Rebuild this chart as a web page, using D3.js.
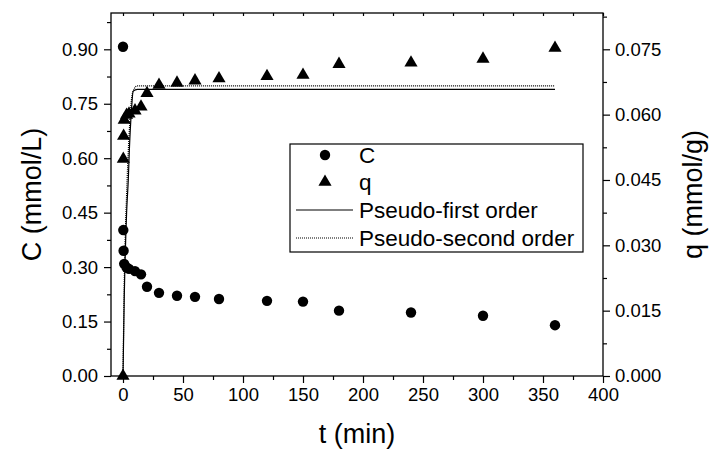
<!DOCTYPE html>
<html><head><meta charset="utf-8">
<script src="https://cdn.jsdelivr.net/npm/d3@7"></script>
<style>body{margin:0;background:#fff}svg{display:block;font-family:"Liberation Sans",Arial,sans-serif}</style>
</head><body><svg id="c" width="709" height="453"></svg>
<script>
// data
const times = [0, 0.25, 0.5, 1, 3, 5, 10, 15, 20, 30, 45, 60, 80, 120, 150, 180, 240, 300, 360];
const cValues = [0.907, 0.402, 0.345, 0.309, 0.299, 0.295, 0.289, 0.280, 0.246, 0.229, 0.221, 0.218, 0.212, 0.207, 0.205, 0.180, 0.175, 0.166, 0.140];
const qValues = [0, 0.0498, 0.0551, 0.0588, 0.0599, 0.0602, 0.0609, 0.0618, 0.0649, 0.0668, 0.0673, 0.0678, 0.0683, 0.0688, 0.0691, 0.0716, 0.0719, 0.0728, 0.0753];
const firstOrderT = [0, 1, 3, 4.4, 5.3, 7, 8.5, 12, 360];
const firstOrderQ = [0, 0.0174, 0.0375, 0.045, 0.0519, 0.0608, 0.0654, 0.0658, 0.0658];
const secondOrderT = [0, 1, 3, 5, 7, 9, 12, 360];
const secondOrderQ = [0, 0.0208, 0.0417, 0.055, 0.0633, 0.0658, 0.0666, 0.0666];
const xTicks = [0, 50, 100, 150, 200, 250, 300, 350, 400];
const cTicks = [0, 0.15, 0.30, 0.45, 0.60, 0.75, 0.90];
const qTicks = [0, 0.015, 0.030, 0.045, 0.060, 0.075];
const legendLabels = ["C", "q", "Pseudo-first order", "Pseudo-second order"];

const L = 111, R = 603, T = 13, B = 376;
const FONT = "'Liberation Sans', Arial, sans-serif";
const svg = d3.select("#c");
const x = d3.scaleLinear([-10, 400], [L, R]);
const yC = d3.scaleLinear([0, 1.0], [B, T]);
const yQ = d3.scaleLinear([0, 1/12], [B, T]);

const xMinor = d3.range(25, 400, 50);
const cMinor = d3.range(0.075, 1.0, 0.15);
const qMinor = d3.range(0.0075, 0.0834, 0.015);

function styleAxis(g, fs) {
  g.select(".domain").remove();
  g.selectAll("line").attr("stroke", "#000").attr("stroke-width", 1.2);
  g.selectAll("text").attr("font-size", fs).attr("fill", "#000").attr("font-family", FONT);
}
// bottom
let g = svg.append("g").attr("transform", `translate(0,${B})`)
  .call(d3.axisBottom(x).tickValues(xTicks).tickFormat(d3.format("d")).tickSizeInner(7).tickSizeOuter(0).tickPadding(5));
styleAxis(g, 18.5);
g = svg.append("g").attr("transform", `translate(0,${B})`)
  .call(d3.axisBottom(x).tickValues(xMinor).tickFormat("").tickSizeInner(4).tickSizeOuter(0));
styleAxis(g, 18);
// top inner ticks
g = svg.append("g").attr("transform", `translate(0,${T})`)
  .call(d3.axisBottom(x).tickValues(xTicks.concat(xMinor)).tickFormat("").tickSizeInner(3).tickSizeOuter(0));
styleAxis(g, 18);
// left
g = svg.append("g").attr("transform", `translate(${L},0)`)
  .call(d3.axisLeft(yC).tickValues(cTicks).tickFormat(d3.format(".2f")).tickSizeInner(7).tickSizeOuter(0).tickPadding(6));
styleAxis(g, 18.5);
g = svg.append("g").attr("transform", `translate(${L},0)`)
  .call(d3.axisLeft(yC).tickValues(cMinor).tickFormat("").tickSizeInner(4).tickSizeOuter(0));
styleAxis(g, 18);
// right
g = svg.append("g").attr("transform", `translate(${R},0)`)
  .call(d3.axisRight(yQ).tickValues(qTicks).tickFormat(d3.format(".3f")).tickSizeInner(7).tickSizeOuter(0).tickPadding(5));
styleAxis(g, 18.5);
g = svg.append("g").attr("transform", `translate(${R},0)`)
  .call(d3.axisRight(yQ).tickValues(qMinor).tickFormat("").tickSizeInner(4).tickSizeOuter(0));
styleAxis(g, 18);

// frame
svg.append("rect").attr("x", L).attr("y", T).attr("width", R - L).attr("height", B - T)
  .attr("fill", "none").attr("stroke", "#000").attr("stroke-width", 1.3);

// fit lines
const line = d3.line().curve(d3.curveMonotoneX);
svg.append("path")
  .attr("d", line(firstOrderT.map((t, i) => [x(t), yQ(firstOrderQ[i])])))
  .attr("fill", "none").attr("stroke", "#000").attr("stroke-width", 1.2);
svg.append("path")
  .attr("d", line(secondOrderT.map((t, i) => [x(t), yQ(secondOrderQ[i])])))
  .attr("fill", "none").attr("stroke", "#000").attr("stroke-width", 1.2).attr("stroke-dasharray", "1,1");

// markers
const circ = d3.symbol().type(d3.symbolCircle).size(85);
const tri = d3.symbol().type(d3.symbolTriangle).size(75);
svg.append("g").selectAll("path").data(times).join("path")
  .attr("d", circ).attr("transform", (t, i) => `translate(${x(t)},${yC(cValues[i])})`).attr("fill", "#000");
svg.append("g").selectAll("path").data(times).join("path")
  .attr("d", tri).attr("transform", (t, i) => `translate(${x(t)},${yQ(qValues[i])})`).attr("fill", "#000");

// axis titles
svg.append("text").attr("x", (L + R) / 2).attr("y", 443).attr("text-anchor", "middle").attr("font-size", 27).attr("font-family", FONT).text("t (min)");
svg.append("text").attr("transform", `translate(41,${(T + B) / 2}) rotate(-90)`).attr("text-anchor", "middle").attr("font-size", 27).attr("font-family", FONT).text("C (mmol/L)");
svg.append("text").attr("transform", `translate(702,${(T + B) / 2}) rotate(-90)`).attr("text-anchor", "middle").attr("font-size", 27).attr("font-family", FONT).text("q (mmol/g)");

// legend
const lg = svg.append("g");
lg.append("rect").attr("x", 290).attr("y", 144).attr("width", 293).attr("height", 108)
  .attr("fill", "#fff").attr("stroke", "#000").attr("stroke-width", 1.2);
const rowsY = [155, 182, 210, 238];
lg.append("path").attr("d", circ).attr("transform", `translate(325,${rowsY[0]})`);
lg.append("path").attr("d", tri).attr("transform", `translate(325,${rowsY[1]})`);
lg.append("line").attr("x1", 296).attr("x2", 353).attr("y1", rowsY[2]).attr("y2", rowsY[2]).attr("stroke", "#000").attr("stroke-width", 1.2);
lg.append("line").attr("x1", 296).attr("x2", 353).attr("y1", rowsY[3]).attr("y2", rowsY[3]).attr("stroke", "#000").attr("stroke-width", 1.2).attr("stroke-dasharray", "1,1");
lg.selectAll("text").data(legendLabels).join("text")
  .attr("x", 359).attr("y", (d, i) => rowsY[i]).attr("dy", "0.35em").attr("font-size", 22.5).attr("font-family", FONT).text(d => d);
</script></body></html>
